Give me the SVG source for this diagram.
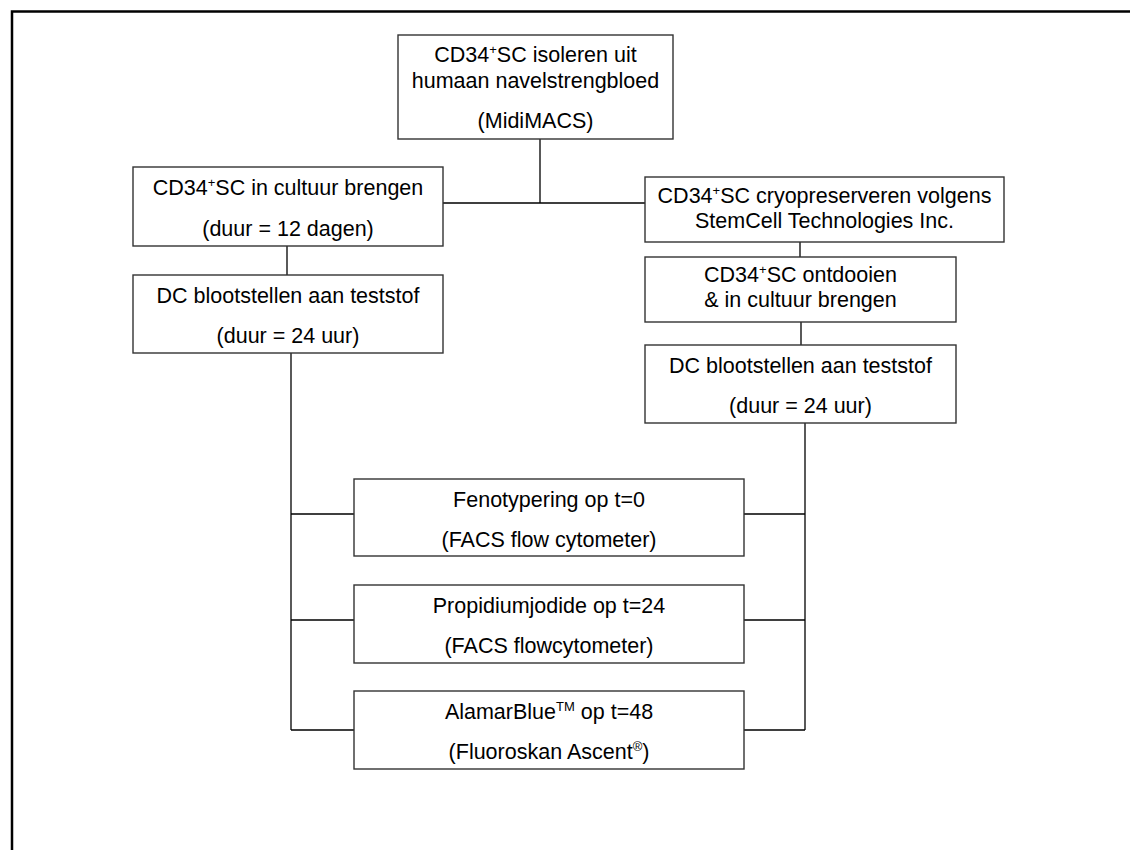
<svg xmlns="http://www.w3.org/2000/svg" width="1130" height="850" viewBox="0 0 1130 850">
<style>
.box{fill:#fff;stroke:#333;stroke-width:1.4}
.t{font-family:"Liberation Sans",Arial,sans-serif;font-size:21.5px;fill:#000;text-anchor:middle}
.sup{font-size:13px}
.c{stroke:#000;stroke-width:1.3;fill:none}
.frame{stroke:#000;stroke-width:2.5;fill:none}
</style>
<rect width="1130" height="850" fill="#fff"/>
<path class="frame" d="M12 850 V11.5 H1130"/>
<g id="connectors">
<path class="c" d="M540 139 V203 M443 203 H645"/>
<path class="c" d="M287 246 V275"/>
<path class="c" d="M800 242 V257"/>
<path class="c" d="M801 322 V345"/>
<path class="c" d="M291 353 V730"/>
<path class="c" d="M805 423 V730"/>
<path class="c" d="M291 514 H354 M744 514 H805"/>
<path class="c" d="M291 620 H354 M744 620 H805"/>
<path class="c" d="M291 730 H354 M744 730 H805"/>
</g>
<g id="n1">
<rect class="box" x="398" y="35" width="275" height="104"/>
<text class="t" x="535.5" y="62">CD34<tspan class="sup" dy="-8">+</tspan><tspan dy="8">SC isoleren uit</tspan></text>
<text class="t" x="535.5" y="88">humaan navelstrengbloed</text>
<text class="t" x="535.5" y="128">(MidiMACS)</text>
</g>
<g id="n2">
<rect class="box" x="133" y="167" width="310" height="79"/>
<text class="t" x="288" y="195">CD34<tspan class="sup" dy="-8">+</tspan><tspan dy="8">SC in cultuur brengen</tspan></text>
<text class="t" x="288" y="236">(duur = 12 dagen)</text>
</g>
<g id="n3">
<rect class="box" x="133" y="275" width="310" height="78"/>
<text class="t" x="288" y="303">DC blootstellen aan teststof</text>
<text class="t" x="288" y="343">(duur = 24 uur)</text>
</g>
<g id="n4">
<rect class="box" x="645" y="177" width="359" height="65"/>
<text class="t" x="824.5" y="203">CD34<tspan class="sup" dy="-8">+</tspan><tspan dy="8">SC cryopreserveren volgens</tspan></text>
<text class="t" x="824.5" y="228">StemCell Technologies Inc.</text>
</g>
<g id="n5">
<rect class="box" x="645" y="257" width="311" height="65"/>
<text class="t" x="800.5" y="282">CD34<tspan class="sup" dy="-8">+</tspan><tspan dy="8">SC ontdooien</tspan></text>
<text class="t" x="800.5" y="307">&amp; in cultuur brengen</text>
</g>
<g id="n6">
<rect class="box" x="645" y="345" width="311" height="78"/>
<text class="t" x="800.5" y="373">DC blootstellen aan teststof</text>
<text class="t" x="800.5" y="413">(duur = 24 uur)</text>
</g>
<g id="n7">
<rect class="box" x="354" y="479" width="390" height="77"/>
<text class="t" x="549" y="507">Fenotypering op t=0</text>
<text class="t" x="549" y="547">(FACS flow cytometer)</text>
</g>
<g id="n8">
<rect class="box" x="354" y="585" width="390" height="78"/>
<text class="t" x="549" y="613">Propidiumjodide op t=24</text>
<text class="t" x="549" y="653">(FACS flowcytometer)</text>
</g>
<g id="n9">
<rect class="box" x="354" y="691" width="390" height="78"/>
<text class="t" x="549" y="719">AlamarBlue<tspan class="sup" dy="-8">TM</tspan><tspan dy="8"> op t=48</tspan></text>
<text class="t" x="549" y="759">(Fluoroskan Ascent<tspan class="sup" dy="-8">®</tspan><tspan dy="8">)</tspan></text>
</g>
</svg>
